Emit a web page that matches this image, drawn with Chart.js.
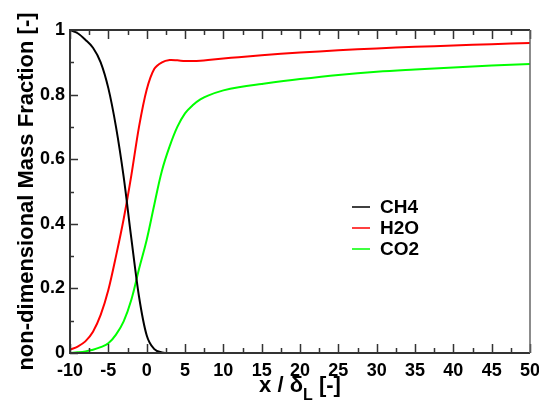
<!DOCTYPE html>
<html>
<head>
<meta charset="utf-8">
<script src="https://cdn.jsdelivr.net/npm/chart.js@4"></script>
<style>
  html, body { margin: 0; padding: 0; background: #fff; }
  #wrap { width: 539px; height: 403px; }
</style>
</head>
<body>
<div id="wrap"><canvas id="myChart" width="539" height="403"></canvas></div>
<script>
var xPos = [-10, -9, -8, -7, -6, -5, -4, -3, -2, -1, 0, 1, 2, 3, 4, 5, 6, 7, 8, 10, 12, 15, 20, 25, 30, 35, 40, 45, 50];
var ch4 = [1.0, 0.99, 0.97, 0.945, 0.90, 0.82, 0.70, 0.545, 0.355, 0.175, 0.055, 0.012, 0.002, 0, 0, 0, 0, 0, 0, 0, 0, 0, 0, 0, 0, 0, 0, 0, 0];
var h2o = [0.01, 0.02, 0.036, 0.066, 0.118, 0.195, 0.30, 0.415, 0.55, 0.70, 0.815, 0.88, 0.90, 0.907, 0.906, 0.904, 0.904, 0.905, 0.907, 0.912, 0.916, 0.922, 0.930, 0.937, 0.943, 0.948, 0.952, 0.956, 0.960];
var co2 = [0, 0.002, 0.005, 0.01, 0.018, 0.03, 0.057, 0.098, 0.165, 0.26, 0.35, 0.46, 0.565, 0.64, 0.70, 0.742, 0.767, 0.785, 0.797, 0.813, 0.823, 0.833, 0.848, 0.861, 0.871, 0.878, 0.884, 0.890, 0.895];
var seriesNames = ['CH4', 'H2O', 'CO2'];
var seriesColors = ['#000000', '#ff0000', '#00ff00'];
var xTicks = [-10, -5, 0, 5, 10, 15, 20, 25, 30, 35, 40, 45, 50];
var yTicks = [0, 0.2, 0.4, 0.6, 0.8, 1];

function pts(ys) {
    return xPos.map(function(x, i) { return {x: x, y: ys[i]}; });
}

Chart.defaults.font.family = "'Liberation Sans', Arial, sans-serif";
Chart.defaults.font.weight = 'bold';
Chart.defaults.color = '#000';

// frame, inward ticks (major + minor), x title with subscript, legend
const decorations = {
    id: 'decorations',
    afterDraw(chart) {
        const ctx = chart.ctx;
        const a = chart.chartArea;
        const xs = chart.scales.x, ys = chart.scales.y;
        ctx.save();
        ctx.strokeStyle = '#333';
        ctx.lineWidth = 1.5;
        ctx.beginPath();
        for (let i = 0; i <= 24; i++) {
            const v = -10 + i * 2.5;
            const px = Math.round(xs.getPixelForValue(v)) + 0.5;
            const len = i % 2 === 0 ? 9 : 5;
            ctx.moveTo(px, a.bottom); ctx.lineTo(px, a.bottom - len);
            ctx.moveTo(px, a.top); ctx.lineTo(px, a.top + len);
        }
        for (let i = 0; i <= 10; i++) {
            const py = Math.round(ys.getPixelForValue(i / 10)) + 0.5;
            const len = i % 2 === 0 ? 8 : 4;
            ctx.moveTo(a.left, py); ctx.lineTo(a.left + len, py);
        }
        ctx.stroke();
        // frame
        ctx.lineWidth = 2;
        ctx.strokeStyle = '#333';
        ctx.beginPath();
        ctx.moveTo(a.right, a.top); ctx.lineTo(a.left, a.top);
        ctx.lineTo(a.left, a.bottom); ctx.lineTo(a.right, a.bottom);
        ctx.stroke();
        ctx.lineWidth = 1.5;
        ctx.strokeStyle = '#666';
        ctx.beginPath();
        ctx.moveTo(a.right, a.top); ctx.lineTo(a.right, a.bottom);
        ctx.stroke();

        // x axis title: x / δ_L [-]
        const fam = "'Liberation Sans', Arial, sans-serif";
        const big = 'bold 22px ' + fam, small = 'bold 16px ' + fam;
        const p1 = 'x / δ', p2 = 'L', p3 = ' [-]';
        ctx.fillStyle = '#000';
        ctx.textBaseline = 'alphabetic';
        ctx.font = big; const w1 = ctx.measureText(p1).width, w3 = ctx.measureText(p3).width;
        ctx.font = small; const w2 = ctx.measureText(p2).width;
        let tx = (a.left + a.right) / 2 - (w1 + w2 + w3) / 2;
        const base = 392;
        ctx.font = big; ctx.textAlign = 'left';
        ctx.fillText(p1, tx, base); tx += w1;
        ctx.font = small; ctx.fillText(p2, tx, base + 8); tx += w2;
        ctx.font = big; ctx.fillText(p3, tx, base);

        // legend inside the plot
        ctx.font = 'bold 19px ' + fam;
        ctx.textBaseline = 'middle';
        chart.data.datasets.forEach(function(ds, i) {
            const y = 207 + i * 21;
            ctx.strokeStyle = ds.borderColor;
            ctx.lineWidth = 1.5;
            ctx.beginPath(); ctx.moveTo(352, y); ctx.lineTo(370, y); ctx.stroke();
            ctx.fillStyle = '#000';
            ctx.fillText(ds.label, 380, y + 1);
        });
        ctx.restore();
    }
};

const ctx = document.getElementById('myChart').getContext('2d');
const myChart = new Chart(ctx, {
    type: 'line',
    data: {
        datasets: [0, 1, 2].map(function(i) {
            return {
                label: seriesNames[i],
                data: pts([ch4, h2o, co2][i]),
                borderColor: seriesColors[i],
                backgroundColor: seriesColors[i],
                borderWidth: 2,
                pointRadius: 0,
                // CH4 has a flat zero tail, keep it monotone; the others look smoother with tension
                cubicInterpolationMode: i === 0 ? 'monotone' : 'default',
                tension: i === 1 ? 0.3 : 0.4,
                fill: false,
            };
        })
    },
    options: {
        responsive: false,
        animation: false,
        layout: { padding: { top: 30, right: 9, left: 0, bottom: 0 } },
        plugins: {
            legend: { display: false },
            tooltip: { enabled: false },
        },
        scales: {
            x: {
                type: 'linear',
                min: -10,
                max: 50,
                afterBuildTicks: function(s) { s.ticks = xTicks.map(function(v) { return {value: v}; }); },
                afterFit: function(s) { s.height = 50; s.paddingLeft = 0; s.paddingRight = 0; },
                grid: { display: false, drawTicks: false },
                border: { display: false },
                ticks: { font: { size: 18, weight: 'bold' }, padding: 7, maxRotation: 0, autoSkip: false },
            },
            y: {
                type: 'linear',
                min: 0,
                max: 1,
                afterBuildTicks: function(s) { s.ticks = yTicks.map(function(v) { return {value: v}; }); },
                afterFit: function(s) { s.width = 70; s.paddingTop = 0; s.paddingBottom = 0; },
                grid: { display: false, drawTicks: false },
                border: { display: false },
                ticks: {
                    font: { size: 18, weight: 'bold' },
                    padding: 5,
                    callback: function(v) { return (v === 0 || v === 1) ? String(v) : v.toFixed(1); },
                },
                title: {
                    display: true,
                    text: 'non-dimensional Mass Fraction [-]',
                    font: { size: 22, weight: 'bold' },
                    padding: { top: 14, bottom: 0 },
                },
            },
        },
    },
    plugins: [decorations],
});
</script>
</body>
</html>
